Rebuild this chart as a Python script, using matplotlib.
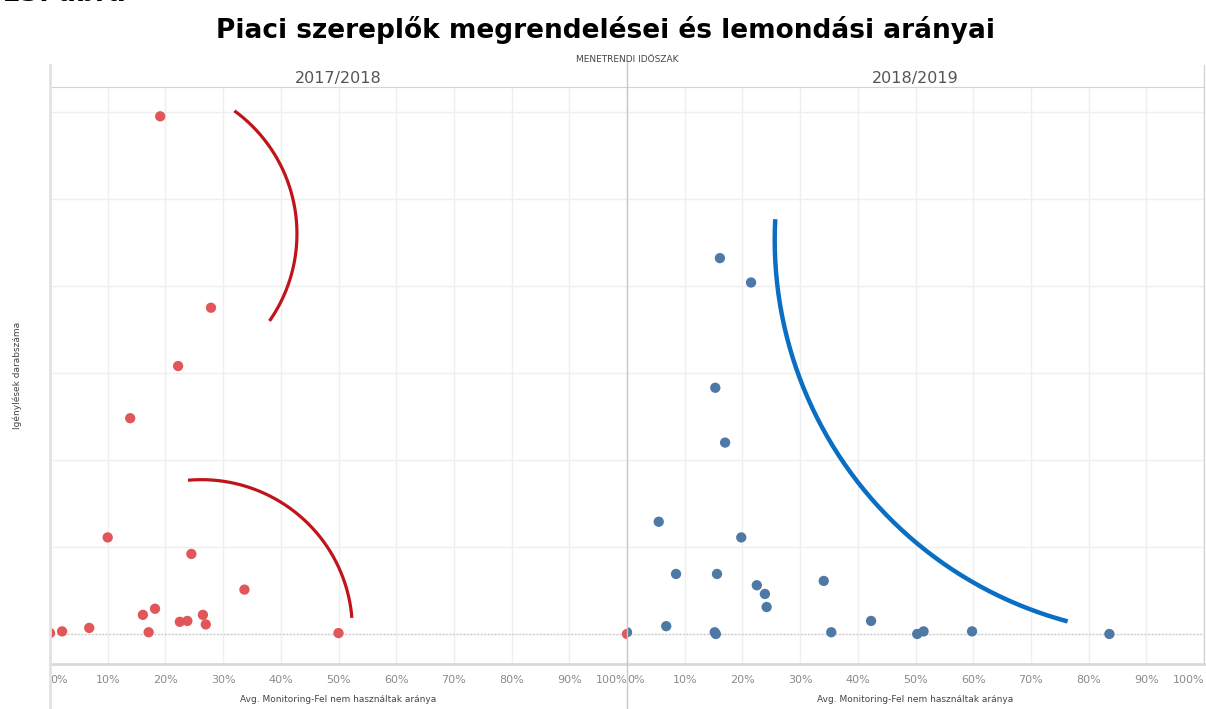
import numpy as np
import matplotlib.pyplot as plt
from matplotlib.lines import Line2D

# 2017/2018 - red points (x: share not used, y: number of requests)
x_1718 = [0.191, 0.279, 0.222, 0.139, 0.100, 0.245, 0.337, 0.182, 0.161, 0.265,
          0.225, 0.238, 0.270, 0.171, 0.068, 0.021, 0.000, 0.500, 1.000]
y_1718 = [595, 375, 308, 248, 111, 92, 51, 29, 22, 22,
          14, 15, 11, 2, 7, 3, 1, 1, 0]

# 2018/2019 - blue points
x_1819 = [0.161, 0.215, 0.153, 0.170, 0.055, 0.198, 0.085, 0.156, 0.341, 0.225,
          0.239, 0.242, 0.423, 0.068, 0.000, 0.152, 0.154, 0.354, 0.503, 0.514,
          0.598, 0.836]
y_1819 = [432, 404, 283, 220, 129, 111, 69, 69, 61, 56,
          46, 31, 15, 9, 2, 2, 0, 2, 0, 3,
          3, 0]

ticks_x = np.arange(0, 1.01, 0.1)
tick_labels = [f"{int(round(t * 100))}%" for t in ticks_x]
panels = ["2017/2018", "2018/2019"]

# hand drawn annotation arcs: (center x, center y, radius x, radius y, start deg, end deg)
red_arcs = [(0.165, 460, 0.263, 174.7, 54, -35),
            (0.262, 5, 0.262, 172.4, 95, 4.5)]
blue_arc = (0.941, 453, 0.685, 454, 177, 255)

red = "#E15759"
blue = "#4E79A7"

W, H = 1206, 709
fig = plt.figure(figsize=(W / 100, H / 100), dpi=100)

ax_l = fig.add_axes([50 / W, 45 / H, 577 / W, 577 / H])
ax_r = fig.add_axes([627 / W, 45 / H, 577 / W, 577 / H])


def draw_arc(ax, arc, color, lw):
    cx, cy, rx, ry, t1, t2 = arc
    t = np.deg2rad(np.linspace(t1, t2, 200))
    ax.plot(cx + rx * np.cos(t), cy + ry * np.sin(t), color=color, lw=lw,
            solid_capstyle="butt", zorder=4)


for ax, xs, ys, col, name in [(ax_l, x_1718, y_1718, red, panels[0]),
                              (ax_r, x_1819, y_1819, blue, panels[1])]:
    ax.set_xlim(0, 1)
    ax.set_ylim(-34.5, 628.7)
    ax.set_xticks(ticks_x)
    ax.set_xticklabels(tick_labels, fontsize=8, color="#8a8a8a")
    ax.set_yticks(np.arange(0, 601, 100))
    ax.set_yticklabels([])
    ax.tick_params(length=0, pad=8)
    lbls = ax.get_xticklabels()
    lbls[0].set_ha("left")
    lbls[-1].set_ha("right")
    ax.grid(True, color="#efefef", lw=1)
    ax.set_axisbelow(True)
    for s in ["left", "right"]:
        ax.spines[s].set_visible(False)
    ax.spines["top"].set_color("#d4d4d4")
    ax.spines["bottom"].set_color("#d9d9d9")
    ax.spines["bottom"].set_linewidth(2)
    ax.axhline(0, color="#c8c8c8", lw=1, ls=(0, (1, 1.5)), zorder=1)
    ax.scatter(xs, ys, s=55, color=col, edgecolors="none", zorder=3)
    ax.set_title(name, fontsize=11.5, color="#555555", pad=3)
    ax.text(0.5, -0.062, "Avg. Monitoring-Fel nem használtak aránya",
            transform=ax.transAxes, ha="center", va="center",
            fontsize=6.5, color="#444444")

for arc in red_arcs:
    draw_arc(ax_l, arc, "#C0141B", 2.3)
draw_arc(ax_r, blue_arc, "#0A6FC2", 3.2)

# frame lines of the small multiple layout
fig.add_artist(Line2D([50 / W, 50 / W], [0, 1 - 65 / H], color="#e2e2e2", lw=2))
fig.add_artist(Line2D([627 / W, 627 / W], [0, 1 - 62 / H], color="#c8c8c8", lw=1))
fig.add_artist(Line2D([1204 / W, 1204 / W], [45 / H, 1 - 65 / H], color="#d4d4d4", lw=1))

# caption at the very top, cut by the page edge as in the source
fig.text(2 / W, 1 - 1 / H, "13. ábra", fontsize=19, fontweight="bold",
         ha="left", va="baseline")
fig.text(605 / W, 1 - 30 / H, "Piaci szereplők megrendelései és lemondási arányai",
         fontsize=19, fontweight="bold", ha="center", va="center")
fig.text(627 / W, 1 - 60 / H, "MENETRENDI IDŐSZAK", fontsize=6.5,
         color="#444444", ha="center", va="center")
fig.text(17 / W, 1 - 375 / H, "Igénylések darabszáma", fontsize=6.5,
         color="#444444", rotation=90, ha="center", va="center")

fig.savefig("out.png", dpi=100)
